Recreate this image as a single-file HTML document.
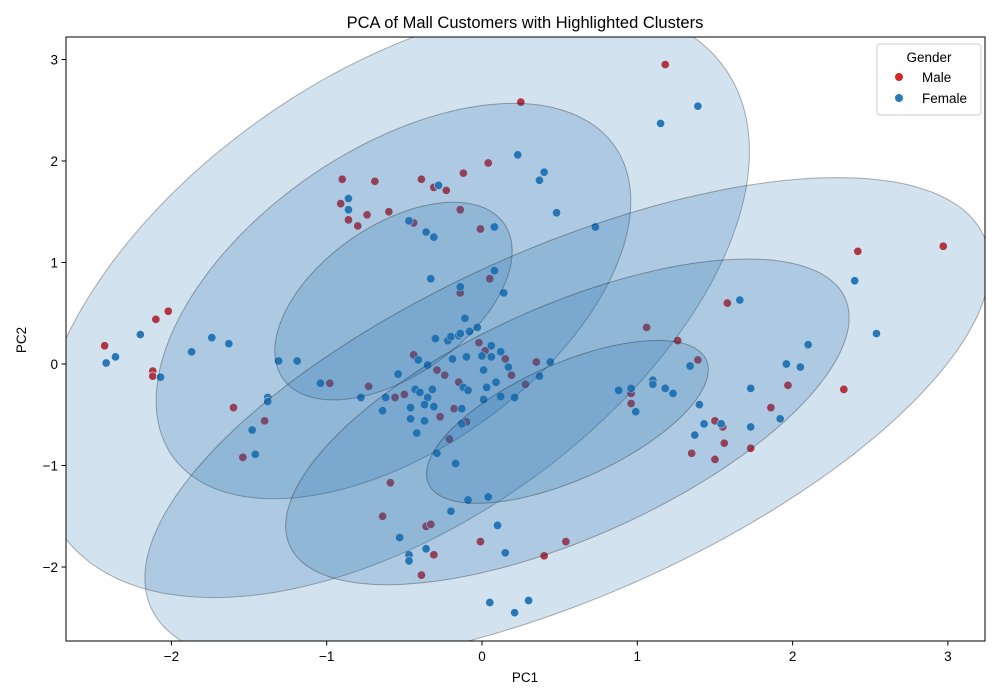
<!DOCTYPE html>
<html><head><meta charset="utf-8"><style>
html,body{margin:0;padding:0;background:#fff;width:1000px;height:700px;overflow:hidden;}
svg{display:block;font-family:"Liberation Sans","DejaVu Sans",sans-serif;}
</style></head><body>
<svg id="chart" width="1000" height="700" viewBox="0 0 1000 700" overflow="hidden">
<rect x="0" y="0" width="1000" height="700" fill="#fff"/>
<g id="points"></g>
<g id="ellipses"></g>
<rect x="66" y="37" width="919" height="604" fill="none" stroke="#000" stroke-width="1"/>
<g id="xticks"></g>
<g id="yticks"></g>
<text x="525" y="28" text-anchor="middle" font-size="16.5">PCA of Mall Customers with Highlighted Clusters</text>
<text x="525" y="682" text-anchor="middle" font-size="13.5">PC1</text>
<text x="0" y="0" transform="translate(26,340) rotate(-90)" text-anchor="middle" font-size="13.5">PC2</text>
<g>
<rect x="877" y="44" width="104" height="71" rx="3" fill="#fff" fill-opacity="0.8" stroke="#ccc"/>
<text x="929" y="62" text-anchor="middle" font-size="13.5">Gender</text>
<circle cx="899" cy="77" r="4" fill="#d62728"/>
<text x="922" y="82" font-size="13.5">Male</text>
<circle cx="899" cy="98" r="4" fill="#2b7bba"/>
<text x="922" y="103" font-size="13.5">Female</text>
</g>
</svg>
<script>
const maleX=[1.18,0.25,-0.9,-0.69,-0.39,-0.12,0.04,-0.31,-0.23,-0.91,-0.6,-0.74,-0.86,-0.8,-0.44,-0.14,-0.01,-0.14,0.05,-2.1,-2.02,-2.43,-2.12,-2.12,-0.98,-0.73,-1.6,-1.4,-1.54,-0.59,-0.64,-0.36,-0.33,-0.31,-0.39,-0.01,0.54,0.4,-0.15,-0.44,-0.29,-0.24,-0.02,0.02,0.15,0.19,0.28,0.35,-0.27,-0.18,-0.1,-0.21,-0.5,-0.56,1.06,1.26,1.39,1.58,0.96,0.96,1.5,1.55,1.56,1.35,1.5,1.73,1.86,1.97,2.42,2.97,2.33];
const maleY=[2.95,2.58,1.82,1.8,1.82,1.88,1.98,1.74,1.71,1.58,1.5,1.47,1.42,1.36,1.39,1.52,1.33,0.7,0.84,0.44,0.52,0.18,-0.07,-0.12,-0.19,-0.22,-0.43,-0.56,-0.92,-1.17,-1.5,-1.6,-1.58,-1.88,-2.08,-1.75,-1.75,-1.89,-0.18,0.09,-0.06,-0.11,0.21,0.13,0.05,-0.11,-0.2,0.02,-0.52,-0.44,-0.57,-0.74,-0.3,-0.33,0.36,0.23,0.04,0.6,-0.29,-0.39,-0.56,-0.62,-0.78,-0.88,-0.94,-0.83,-0.43,-0.21,1.11,1.16,-0.25];
const femaleX=[1.39,1.15,0.23,0.4,0.37,-0.86,-0.28,-0.86,0.48,-0.47,-0.36,-0.31,0.08,0.73,0.08,-0.33,-0.14,0.14,1.66,2.4,2.54,2.1,1.96,2.05,1.73,1.92,1.73,1.54,1.43,1.37,1.4,1.34,1.23,1.18,1.1,1.1,0.96,0.88,0.99,-2.2,-2.36,-2.42,-2.07,-1.87,-1.74,-1.63,-1.31,-1.19,-1.38,-1.38,-1.48,-1.46,-1.04,-0.78,-0.64,-0.62,-0.54,-0.41,-0.35,-0.3,-0.22,-0.2,-0.15,-0.11,-0.08,-0.03,-0.14,-0.19,-0.1,0,0.06,0.12,0.06,0.01,0.03,0.09,0.12,0.17,0.21,0.37,0.44,0.01,-0.12,-0.09,-0.32,-0.43,-0.4,-0.35,-0.37,-0.31,-0.46,-0.46,-0.37,-0.42,-0.13,-0.13,-0.29,-0.17,-0.09,0.04,-0.2,0.1,-0.53,-0.36,-0.47,-0.47,0.15,0.05,0.3,0.21];
const femaleY=[2.54,2.37,2.06,1.89,1.81,1.63,1.76,1.52,1.49,1.41,1.3,1.25,1.35,1.35,0.92,0.84,0.76,0.7,0.63,0.82,0.3,0.19,0,-0.03,-0.24,-0.54,-0.62,-0.59,-0.59,-0.7,-0.4,-0.02,-0.29,-0.24,-0.16,-0.2,-0.24,-0.26,-0.47,0.29,0.07,0.01,-0.13,0.12,0.26,0.2,0.03,0.03,-0.33,-0.37,-0.65,-0.89,-0.19,-0.33,-0.46,-0.33,-0.1,0.04,-0.01,0.25,0.23,0.27,0.28,0.45,0.32,0.36,0.3,0.05,0.07,0.08,0.18,0.12,0.07,-0.06,-0.23,-0.18,-0.32,-0.03,-0.33,-0.12,0.02,-0.35,-0.23,-0.26,-0.25,-0.25,-0.28,-0.33,-0.4,-0.42,-0.43,-0.54,-0.56,-0.68,-0.44,-0.59,-0.88,-0.98,-1.34,-1.31,-1.45,-1.59,-1.71,-1.82,-1.88,-1.94,-1.86,-2.35,-2.33,-2.45];
const xTicks=[-2,-1,0,1,2,3];
const yTicks=[-2,-1,0,1,2,3];
const clusterCX=[-0.57,0.55];
const clusterCY=[0.62,-0.57];

const sx=v=>482+v*155.3;
const sy=v=>364-v*101.5;
const NS="http://www.w3.org/2000/svg";
const pts=document.getElementById('points');
function addPts(xs,ys,col,name){
  for(let i=0;i<xs.length;i++){
    const c=document.createElementNS(NS,'circle');
    c.setAttribute('cx',sx(xs[i]));c.setAttribute('cy',sy(ys[i]));
    c.setAttribute('r',4.2);c.setAttribute('fill',col);
    c.setAttribute('stroke','#fff');c.setAttribute('stroke-width','0.7');
    
    
    pts.appendChild(c);
  }
}
addPts(maleX,maleY,'#d62728','male-point');
addPts(femaleX,femaleY,'#2b7bba','female-point');

const L=66,R=985,T=37,B=641;
function clipPoly(poly){
  const edges=[
    [p=>p[0]>=L,(a,b)=>{const t=(L-a[0])/(b[0]-a[0]);return [L,a[1]+t*(b[1]-a[1])];}],
    [p=>p[0]<=R,(a,b)=>{const t=(R-a[0])/(b[0]-a[0]);return [R,a[1]+t*(b[1]-a[1])];}],
    [p=>p[1]>=T,(a,b)=>{const t=(T-a[1])/(b[1]-a[1]);return [a[0]+t*(b[0]-a[0]),T];}],
    [p=>p[1]<=B,(a,b)=>{const t=(B-a[1])/(b[1]-a[1]);return [a[0]+t*(b[0]-a[0]),B];}]
  ];
  let out=poly;
  for(const [inside,inter] of edges){
    const inp=out;out=[];
    for(let i=0;i<inp.length;i++){
      const cur=inp[i],prev=inp[(i+inp.length-1)%inp.length];
      if(inside(cur)){ if(!inside(prev)) out.push(inter(prev,cur)); out.push(cur);}
      else if(inside(prev)) out.push(inter(prev,cur));
    }
  }
  return out;
}
const ell=document.getElementById('ellipses');
const shapes=[{rx:135,ry:75,a:-35},{rx:152,ry:58,a:-24}];
for(let k=0;k<2;k++){
  for(let s=3;s>=1;s--){
    const cx=sx(clusterCX[k]),cy=sy(clusterCY[k]);
    const rx=shapes[k].rx*s,ry=shapes[k].ry*s,ang=shapes[k].a*Math.PI/180;
    const poly=[];
    for(let i=0;i<240;i++){
      const t=i/240*2*Math.PI;
      const ex=rx*Math.cos(t),ey=ry*Math.sin(t);
      poly.push([cx+ex*Math.cos(ang)-ey*Math.sin(ang),cy+ex*Math.sin(ang)+ey*Math.cos(ang)]);
    }
    const cp=clipPoly(poly);
    const e=document.createElementNS(NS,'path');
    e.setAttribute('d','M'+cp.map(p=>p[0].toFixed(1)+','+p[1].toFixed(1)).join('L')+'Z');
    e.setAttribute('fill','rgba(31,110,175,0.2)');
    e.setAttribute('stroke','rgba(0,0,0,0.3)');
    
    
    ell.appendChild(e);
  }
}
const xg=document.getElementById('xticks');
xTicks.forEach(t=>{
  const x=sx(t);
  const l=document.createElementNS(NS,'line');
  l.setAttribute('x1',x);l.setAttribute('x2',x);l.setAttribute('y1',641);l.setAttribute('y2',645.5);l.setAttribute('stroke','#000');
  
  
  xg.appendChild(l);
  const tx=document.createElementNS(NS,'text');
  tx.setAttribute('x',x);tx.setAttribute('y',661);tx.setAttribute('text-anchor','middle');tx.setAttribute('font-size','13.5');
  tx.textContent=t<0?'\u2212'+Math.abs(t):String(t);
  
  
  xg.appendChild(tx);
});
const yg=document.getElementById('yticks');
yTicks.forEach(t=>{
  const y=sy(t);
  const l=document.createElementNS(NS,'line');
  l.setAttribute('x1',61.5);l.setAttribute('x2',66);l.setAttribute('y1',y);l.setAttribute('y2',y);l.setAttribute('stroke','#000');
  
  
  yg.appendChild(l);
  const tx=document.createElementNS(NS,'text');
  tx.setAttribute('x',58);tx.setAttribute('y',y+5);tx.setAttribute('text-anchor','end');tx.setAttribute('font-size','13.5');
  tx.textContent=t<0?'\u2212'+Math.abs(t):String(t);
  
  
  yg.appendChild(tx);
});
</script>
</body></html>
